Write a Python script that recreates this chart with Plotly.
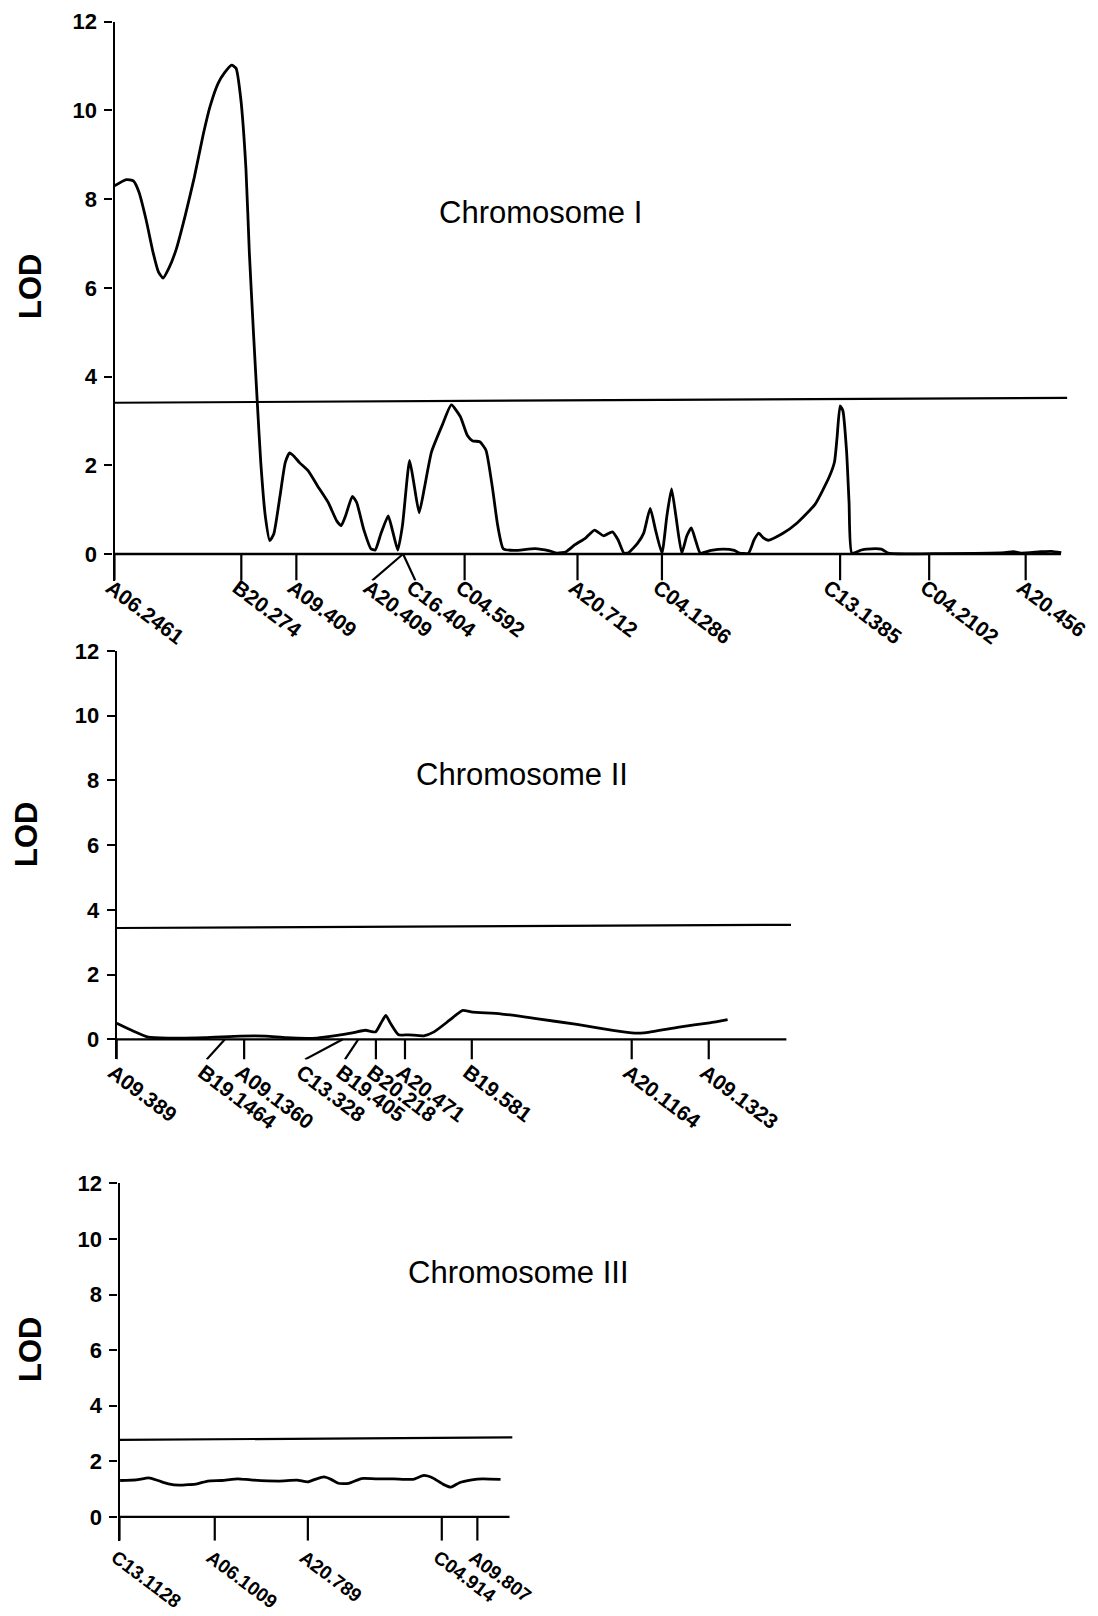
import plotly.graph_objects as go

# ---------------- data ----------------
# Chromosome I  (position in cM-like map units, LOD)
chr1_pos = [0, 3.8, 6.1, 7.9, 10.2, 12.5, 14.2, 15.7, 17.7, 20.0, 22.9, 25.8, 28.6, 30.9, 33.5, 35.6, 37.9, 39.3,
            40.8, 42.5, 43.6, 45.0, 46.2, 47.3, 48.8, 50.2, 51.5, 53.5, 55.2, 56.6, 58.1, 59.8, 62.7, 65.6, 69.1,
            71.9, 73.3, 74.8, 76.9, 78.3, 80.6, 82.9, 84.3, 86.1, 88.5, 89.8, 91.6, 93.1, 95.4, 96.8, 98.5, 100.2,
            102.5, 106.0, 108.9, 111.8, 114.1, 115.8, 118.1, 120.1, 122.2, 123.9, 125.7, 129.1, 136.0, 140.6,
            143.1, 146.0, 148.9, 152.3, 155.2, 158.1, 161.0, 162.8, 164.7, 166.2, 169.1, 171.1, 173.2, 174.9,
            177.0, 178.6, 180.1, 181.5, 183.4, 185.0, 186.5, 188.0, 189.4, 192.9, 196.9, 200.4, 202.1, 205.0,
            206.8, 208.3, 209.7, 211.4, 216.0, 220.7, 226.5, 231.1, 232.8, 233.6, 234.6, 235.5, 236.7, 237.5,
            238.4, 241.5, 243.2, 247.9, 250.2, 268.0, 287.8, 290.7, 293.1, 299.4, 302.9, 306.1]
chr1_lod = [8.30, 8.44, 8.41, 8.16, 7.54, 6.79, 6.36, 6.22, 6.46, 6.88, 7.64, 8.49, 9.43, 10.09, 10.61, 10.85, 11.02,
            10.95, 10.28, 8.68, 6.79, 4.90, 3.38, 2.06, 0.83, 0.30, 0.45, 1.30, 2.06, 2.28, 2.20, 2.06, 1.87, 1.54,
            1.16, 0.74, 0.64, 0.88, 1.30, 1.16, 0.55, 0.12, 0.09, 0.45, 0.86, 0.55, 0.09, 0.64, 2.11, 1.59, 0.93,
            1.49, 2.30, 2.91, 3.36, 3.10, 2.67, 2.55, 2.53, 2.34, 1.49, 0.64, 0.12, 0.08, 0.12, 0.07,
            0.02, 0.05, 0.21, 0.36, 0.54, 0.41, 0.50, 0.32, 0.02, 0.03, 0.24, 0.47, 1.03, 0.55,
            0.02, 0.86, 1.47, 0.86, 0.02, 0.40, 0.59, 0.28, 0.02, 0.08, 0.11, 0.08, 0.02, 0.02,
            0.32, 0.47, 0.37, 0.31, 0.46, 0.70, 1.12, 1.74, 2.08, 2.61, 3.34, 3.23, 2.31, 1.16,
            0.02, 0.09, 0.11, 0.11, 0.02, 0.01, 0.03, 0.05, 0.02, 0.05, 0.06, 0.03]
chr1_threshold_pos = [0, 308]
chr1_threshold = [3.41, 3.52]
chr1_axis_end = 306
chr1_markers = ["A06.2461", "B20.274", "A09.409", "A20.409", "C16.404", "C04.592", "A20.712",
                "C04.1286", "C13.1385", "C04.2102", "A20.456"]
chr1_marker_pos = [0, 41.0, 58.8, 93.3, 93.3, 113.2, 149.7, 177.0, 234.6, 263.4, 294.6]
chr1_label_pos = [0, 41.0, 58.8, 83.3, 97.3, 113.2, 149.7, 177.0, 232.0, 263.4, 294.6]

# Chromosome II
chr2_pos = [0, 5.3, 10.2, 16.8, 28.4, 39.9, 48.2, 54.8, 64.7, 71.3, 76.2, 80.4, 83.7, 85.3, 87.0, 88.6, 91.1,
            94.4, 99.3, 102.6, 107.6, 111.7, 115.0, 124.1, 135.6, 148.8, 160.4, 166.5, 170.3, 181.8, 191.7, 197.5]
chr2_lod = [0.50, 0.26, 0.07, 0.04, 0.05, 0.10, 0.10, 0.05, 0.04, 0.12, 0.20, 0.28, 0.23, 0.48, 0.74, 0.48, 0.14,
            0.14, 0.11, 0.23, 0.59, 0.89, 0.84, 0.79, 0.64, 0.46, 0.28, 0.20, 0.20, 0.38, 0.51, 0.61]
chr2_threshold_pos = [0, 218]
chr2_threshold = [3.44, 3.54]
chr2_axis_end = 216.5
chr2_markers = ["A09.389", "B19.1464", "A09.1360", "C13.328", "B19.405", "B20.218", "A20.471",
                "B19.581", "A20.1164", "A09.1323"]
chr2_marker_pos = [0, 35.0, 41.2, 73.1, 78.1, 83.8, 93.2, 114.8, 166.5, 191.4]
chr2_label_pos = [0, 29.1, 41.2, 60.9, 73.8, 83.8, 93.2, 114.8, 166.5, 191.4]

# Chromosome III
chr3_pos = [0.2, 5.4, 9.5, 12.4, 15.8, 19.3, 25.1, 28.5, 33.1, 38.3, 42.4, 51.6, 57.4, 60.9, 63.2, 66.1, 68.4,
            70.7, 74.1, 78.2, 82.8, 88.6, 94.9, 98.4, 101.3, 104.7, 107.2, 109.9, 113.9, 117.4, 123.2]
chr3_lod = [1.31, 1.33, 1.40, 1.31, 1.19, 1.14, 1.19, 1.29, 1.31, 1.37, 1.33, 1.29, 1.32, 1.26, 1.35, 1.44, 1.35,
            1.21, 1.21, 1.38, 1.37, 1.37, 1.35, 1.49, 1.40, 1.17, 1.07, 1.23, 1.33, 1.37, 1.35]
chr3_threshold_pos = [0, 127]
chr3_threshold = [2.77, 2.86]
chr3_axis_end = 126.1
chr3_markers = ["C13.1128", "A06.1009", "A20.789", "C04.914", "A09.807"]
chr3_marker_pos = [0, 30.8, 60.9, 104.2, 115.7]
chr3_label_pos = [0, 30.8, 60.9, 104.2, 115.7]

panel_titles = ["Chromosome I", "Chromosome II", "Chromosome III"]
y_ticks = [0, 2, 4, 6, 8, 10, 12]

# ---------------- layout / style ----------------
W, H = 1098, 1616
FONT = "Liberation Sans, Arial, Helvetica, sans-serif"
INK = "#000000"

panels = [
    dict(pos=chr1_pos, lod=chr1_lod, tpos=chr1_threshold_pos, thr=chr1_threshold, end=chr1_axis_end,
         mk=chr1_markers, mpos=chr1_marker_pos, lpos=chr1_label_pos,
         xdom=[114.5 / W, 1073.3 / W], ydom=[1 - 580.6 / H, 1 - 21.7 / H], xmax=310, depth=0.60,
         standoff=-10, lsize=21, title_xy=(540.5, 212), lod_xy=(30, 287)),
    dict(pos=chr2_pos, lod=chr2_lod, tpos=chr2_threshold_pos, thr=chr2_threshold, end=chr2_axis_end,
         mk=chr2_markers, mpos=chr2_marker_pos, lpos=chr2_label_pos,
         xdom=[116.7 / W, 797.2 / W], ydom=[1 - 1059.4 / H, 1 - 651.0 / H], xmax=220, depth=0.62,
         standoff=-4, lsize=21, title_xy=(521.7, 774), lod_xy=(27, 835)),
    dict(pos=chr3_pos, lod=chr3_lod, tpos=chr3_threshold_pos, thr=chr3_threshold, end=chr3_axis_end,
         mk=chr3_markers, mpos=chr3_marker_pos, lpos=chr3_label_pos,
         xdom=[119.5 / W, 515.4 / W], ydom=[1 - 1540.8 / H, 1 - 1183.3 / H], xmax=128, depth=0.86,
         standoff=1, lsize=19, title_xy=(518, 1272), lod_xy=(30, 1350)),
]

fig = go.Figure()
annotations = []
for i, p in enumerate(panels):
    n = "" if i == 0 else str(i + 1)
    xa, ya = "x" + n, "y" + n
    # LOD curve
    fig.add_trace(go.Scatter(x=p["pos"], y=p["lod"], mode="lines", xaxis=xa, yaxis=ya,
                             line=dict(color=INK, width=2.8, shape="spline", smoothing=0.5),
                             hoverinfo="skip", showlegend=False))
    # threshold line
    fig.add_trace(go.Scatter(x=p["tpos"], y=p["thr"], mode="lines", xaxis=xa, yaxis=ya,
                             line=dict(color=INK, width=2.2), hoverinfo="skip", showlegend=False))
    # baseline (x axis at LOD 0)
    fig.add_trace(go.Scatter(x=[0, p["end"]], y=[0, 0], mode="lines", xaxis=xa, yaxis=ya,
                             line=dict(color=INK, width=2.4), hoverinfo="skip", showlegend=False))
    # marker ticks (vertical or oblique leaders to labels)
    tx, ty = [], []
    for m, l in zip(p["mpos"], p["lpos"]):
        if abs(m - l) < 3:
            l = m  # vertical tick; label offset only
        tx += [m, l, None]
        ty += [0, -p["depth"], None]
    fig.add_trace(go.Scatter(x=tx, y=ty, mode="lines", xaxis=xa, yaxis=ya,
                             line=dict(color=INK, width=2.2), hoverinfo="skip", showlegend=False))

    fig.layout["xaxis" + n] = dict(
        domain=p["xdom"], range=[0, p["xmax"]], anchor=ya, automargin=False,
        showline=False, showgrid=False, zeroline=False, ticks="",
        tickmode="array", tickvals=p["lpos"], ticktext=["<b>%s</b>" % t for t in p["mk"]], tickangle=37,
        tickfont=dict(family=FONT, size=p["lsize"], color=INK), ticklabelstandoff=p["standoff"],
        ticklabelshift=-4)
    fig.layout["yaxis" + n] = dict(
        domain=p["ydom"], range=[-p["depth"], 12], anchor=xa, automargin=False,
        showline=True, linecolor=INK, linewidth=2.2, showgrid=False, zeroline=False,
        ticks="outside", ticklen=8, tickwidth=2.2, tickcolor=INK,
        tickmode="array", tickvals=y_ticks, ticktext=["<b>%d</b>" % v for v in y_ticks],
        tickfont=dict(family=FONT, size=22, color=INK), ticklabelstandoff=3)

    annotations.append(dict(text=panel_titles[i], x=p["title_xy"][0] / W, y=1 - p["title_xy"][1] / H,
                            xref="paper", yref="paper", showarrow=False, xanchor="center", yanchor="middle",
                            font=dict(family=FONT, size=31, color=INK)))
    annotations.append(dict(text="<b>LOD</b>", x=p["lod_xy"][0] / W, y=1 - p["lod_xy"][1] / H,
                            xref="paper", yref="paper", showarrow=False, xanchor="center", yanchor="middle",
                            textangle=-90, font=dict(family=FONT, size=31, color=INK)))

fig.update_layout(width=W, height=H, margin=dict(l=0, r=0, t=0, b=0, autoexpand=False),
                  paper_bgcolor="white", plot_bgcolor="white",
                  annotations=annotations, showlegend=False)

fig.write_html("out.html", include_plotlyjs=True, config={"displayModeBar": False})
